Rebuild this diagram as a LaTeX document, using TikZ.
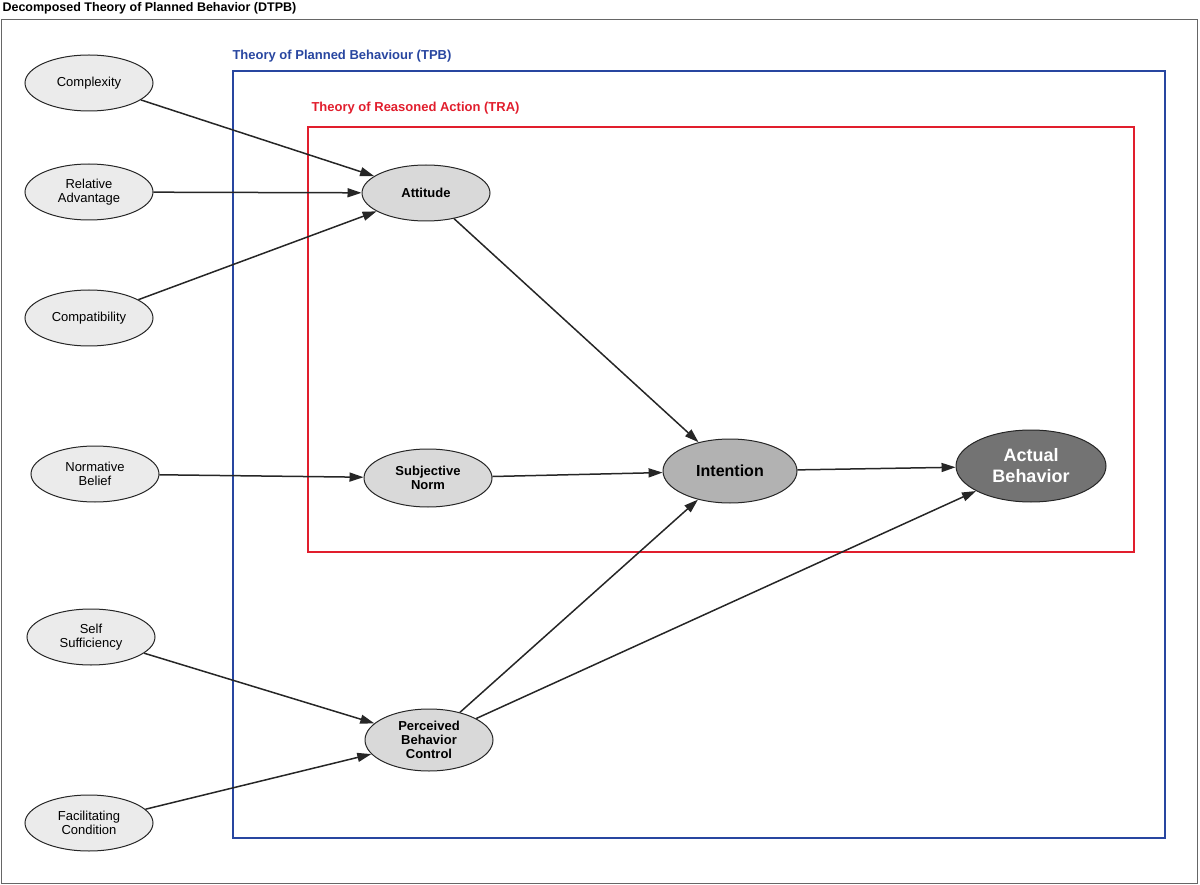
\documentclass[tikz,border=0pt]{standalone}
\usepackage{fontspec}
\setmainfont{Liberation Sans}
\usetikzlibrary{shapes.geometric,arrows.meta}
\begin{document}
\begin{tikzpicture}[x=1pt,y=-1pt,
    ell/.style={ellipse,draw=black!85,line width=1pt,fill=black!8,minimum width=#1,align=center,font=\fontsize{13}{14}\selectfont,inner sep=1pt},
    ell/.default=126pt,
    arr/.style={-{Triangle[length=14pt,width=9pt]},line width=1.5pt,draw=black!85}]
    \useasboundingbox (0,0) rectangle (1200,885);
    % Frames
    \draw [black!60,line width=1pt] (1,20) rectangle (1197,883);
    \draw [color={rgb,255:red,40;green,70;blue,160},line width=2.5pt] (233,71) rectangle (1165,838);
    \draw [color={rgb,255:red,225;green,30;blue,45},line width=1.5pt] (308,127) rectangle (1134,552);
    % Text Node
    \node [anchor=west,font=\bfseries\fontsize{12.5}{14}\selectfont] (dtpb) at (-1,8) {Decomposed Theory of Planned Behavior (DTPB)};
    \node [anchor=west,font=\bfseries\fontsize{13}{14}\selectfont,color={rgb,255:red,40;green,70;blue,160}] (tpb) at (229,56) {Theory of Planned Behaviour (TPB)};
    \node [anchor=west,font=\bfseries\fontsize{13}{14}\selectfont,color={rgb,255:red,225;green,30;blue,45}] (tra) at (308,108) {Theory of Reasoned Action (TRA)};
    % Left nodes
    \node [ell=128pt,minimum height=56pt] (cx) at (89,83) {Complexity};
    \node [ell=128pt,minimum height=56pt] (ra) at (89,192) {Relative\\Advantage};
    \node [ell=128pt,minimum height=56pt] (cp) at (89,318) {Compatibility};
    \node [ell=128pt,minimum height=56pt] (nb) at (95,474) {Normative\\Belief};
    \node [ell=128pt,minimum height=56pt] (ss) at (91,637) {Self\\Sufficiency};
    \node [ell=128pt,minimum height=56pt] (fc) at (89,823) {Facilitating\\Condition};
    % Inner nodes
    \node [ell=128pt,minimum height=56pt,fill=black!15,font=\bfseries\fontsize{13}{14}\selectfont] (att) at (426,193) {Attitude};
    \node [ell=128pt,minimum height=58pt,fill=black!15,font=\bfseries\fontsize{13}{14}\selectfont] (sn) at (428,478) {Subjective\\Norm};
    \node [ell=128pt,minimum height=62pt,fill=black!15,font=\bfseries\fontsize{13}{14}\selectfont] (pbc) at (429,740) {Perceived\\Behavior\\Control};
    \node [ell=134pt,minimum height=64pt,fill=black!30,font=\bfseries\fontsize{16}{17}\selectfont] (int) at (730,471) {Intention};
    \node [ell=150pt,minimum height=72pt,fill=black!55,text=white,font=\bfseries\fontsize{18}{21}\selectfont] (ab) at (1031,466) {Actual\\Behavior};
    % Connectors
    \draw [arr] (cx) -- (att);
    \draw [arr] (ra) -- (att);
    \draw [arr] (cp) -- (att);
    \draw [arr] (nb) -- (sn);
    \draw [arr] (ss) -- (pbc);
    \draw [arr] (fc) -- (pbc);
    \draw [arr] (att) -- (int);
    \draw [arr] (sn) -- (int);
    \draw [arr] (pbc) -- (int);
    \draw [arr] (int) -- (ab);
    \draw [arr] (pbc) -- (ab);
\end{tikzpicture}
\end{document}
